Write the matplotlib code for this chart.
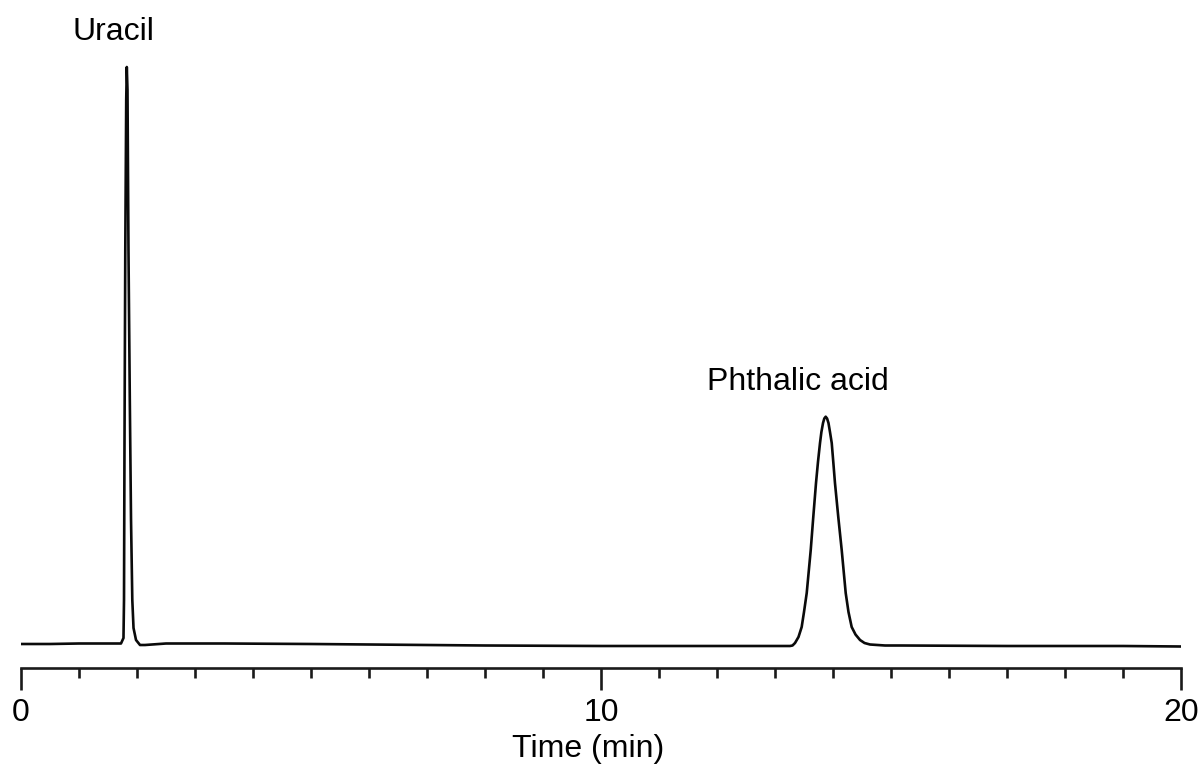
import matplotlib.pyplot as plt
from matplotlib.ticker import MultipleLocator

plt.rcParams['font.family'] = ['Liberation Sans', 'DejaVu Sans']

# chromatogram trace: time (min), signal (arb. units)
time = [0.0, 0.5, 1.0, 1.5, 1.724, 1.767, 1.776, 1.784, 1.798, 1.814, 1.824,
        1.836, 1.853, 1.876, 1.897, 1.919, 1.940, 1.983, 2.052, 2.138, 2.5,
        3.5, 5.0, 6.0, 8.0, 10.0, 12.0, 13.0, 13.259, 13.302, 13.345, 13.405,
        13.460, 13.500, 13.547, 13.616, 13.660, 13.707, 13.741, 13.776,
        13.800, 13.828, 13.850, 13.874, 13.898, 13.922, 13.948, 13.978,
        14.005, 14.034, 14.091, 14.150, 14.219, 14.267, 14.322, 14.388,
        14.466, 14.543, 14.638, 14.897, 15.155, 17.0, 19.0, 20.0]
signal = [1.0, 1.0, 1.25, 1.25, 1.25, 4, 23, 98, 198, 273, 289.5,
          278, 198, 123, 63, 23, 9, 3, 0.5, 0.5, 1.25,
          1.25, 1.0, 0.75, 0.25, 0.0, 0.0, 0.0, 0.0, 0.25, 1.5, 4.5,
          9.5, 17, 26.5, 48, 64.5, 81.5, 92, 101.5,
          107, 111.5, 113.75, 114.65, 113.75, 111.5, 107, 101.5,
          92, 81.5, 64.5, 48, 26.5, 17, 9.5, 5.75,
          3, 1.5, 0.75, 0.25, 0.25, 0.0, 0.0, -0.25]

peak_names = ["Uracil", "Phthalic acid"]
label_time = [1.586, 13.39]
label_signal = [303, 128]

x_ticks = [0, 10, 20]

fig = plt.figure(figsize=(12.01, 7.64), dpi=100)
ax = fig.add_axes([21 / 1201, 96 / 764, 1160 / 1201, 608 / 764])

ax.plot(time, signal, color='#0a0a0a', linewidth=1.9,
        solid_joinstyle='round', solid_capstyle='round')

for name, t, s in zip(peak_names, label_time, label_signal):
    ax.text(t, s, name, ha='center', va='baseline', fontsize=23)

ax.set_xlim(0, 20)
ax.set_ylim(-11, 293)

for side in ['top', 'right', 'left']:
    ax.spines[side].set_visible(False)
ax.spines['bottom'].set_linewidth(1.9)
ax.spines['bottom'].set_color('#1a1a1a')

ax.set_yticks([])
ax.set_xticks(x_ticks)
ax.xaxis.set_minor_locator(MultipleLocator(1))
ax.tick_params(axis='x', which='major', direction='out', length=15.5,
               width=1.9, color='#1a1a1a', labelsize=23, pad=6)
ax.tick_params(axis='x', which='minor', direction='out', length=7.5,
               width=1.9, color='#1a1a1a')

fig.text(588.5 / 1201, 7 / 764, "Time (min)", ha='center', va='baseline',
         fontsize=23)

fig.savefig("out.png", dpi=100)
